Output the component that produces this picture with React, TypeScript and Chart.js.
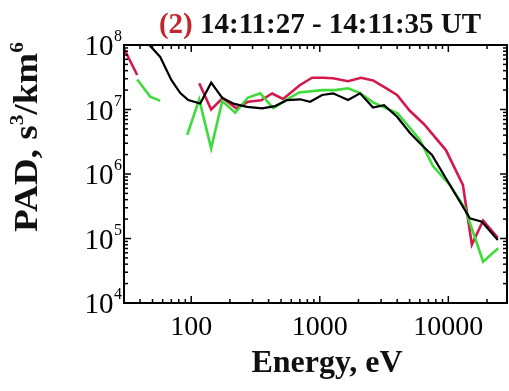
import React, { useEffect, useRef } from 'react';
import { Chart, registerables } from 'chart.js';

Chart.register(...registerables);

// ---- data ----
const blackEnergy = [38.0, 48.0, 57.4, 70.0, 82.2, 94.8, 117.5, 142.9, 174.3, 216, 272, 356, 450, 557, 703, 841, 1043, 1268, 1659, 2057, 2595, 3160, 3990, 5035, 6015, 7460, 10290, 14710, 18250, 24270];
const blackPad = [1.7e8, 9.65e7, 6.52e7, 2.87e7, 1.8e7, 1.4e7, 1.24e7, 2.61e7, 1.51e7, 1.22e7, 1.1e7, 1.04e7, 1.13e7, 1.4e7, 1.44e7, 1.32e7, 1.68e7, 1.78e7, 1.4e7, 1.78e7, 1.07e7, 1.17e7, 7.73e6, 4.33e6, 2.99e6, 1.97e6, 6.75e5, 2.05e5, 1.82e5, 9.5e4];

const redEnergy = [30.1, 38.0, 60, 115.4, 142.9, 175.8, 224, 277, 350, 426, 518, 703, 871, 1061, 1268, 1659, 2094, 2595, 3275, 3990, 5035, 6450, 9570, 12980, 15240, 18660, 24270];
const redPad = [8.67e7, 3.43e7, null, 2.55e7, 1.0e7, 1.51e7, 1.04e7, 1.32e7, 1.39e7, 1.77e7, 1.46e7, 2.4e7, 3.11e7, 3.11e7, 3.05e7, 2.74e7, 3.11e7, 2.82e7, 2.15e7, 1.68e7, 9.48e6, 5.96e6, 2.35e6, 6.75e5, 8.07e4, 1.9e5, 1.02e5];

const greenEnergy = [38.0, 48.0, 57.4, 75, 93.1, 115.4, 142.9, 174.3, 220, 275, 344, 434, 557, 690, 1043, 1315, 1659, 2057, 2595, 3275, 4030, 5035, 6015, 7590, 10290, 13460, 18660, 24430];
const greenPad = [2.92e7, 1.58e7, 1.36e7, null, 4.03e6, 1.43e7, 2.5e6, 1.35e7, 8.91e6, 1.52e7, 1.78e7, 1.05e7, 1.44e7, 1.84e7, 2.0e7, 2.0e7, 2.13e7, 1.8e7, 1.29e7, 1.05e7, 8.73e6, 5.17e6, 3.37e6, 1.33e6, 6.75e5, 2.94e5, 4.37e4, 7.05e4];

const xMin = 30;
const xMax = 28600;
const yMin = 1e4;
const yMax = 1e8;
const xTickValues = [100, 1000, 10000];
const xTickLabels = ['100', '1000', '10000'];
const yTickExponents = [4, 5, 6, 7, 8];

const titleNumber = '(2)';
const titleText = ' 14:11:27 - 14:11:35 UT';
const xTitle = 'Energy, eV';

const SERIF = '"Liberation Serif", "Times New Roman", serif';

function toPoints(xs: number[], ys: (number | null)[]) {
  return xs.map((x, i) => ({ x, y: ys[i] }));
}

const axesPlugin = {
  id: 'axesPlugin',
  afterDraw(chart: any) {
    const { ctx, chartArea: a, scales } = chart;
    const xs = scales.x;
    const ys = scales.y;
    ctx.save();
    ctx.strokeStyle = '#000';
    ctx.fillStyle = '#000';

    const line = (x1: number, y1: number, x2: number, y2: number) => {
      ctx.beginPath();
      ctx.moveTo(x1, y1);
      ctx.lineTo(x2, y2);
      ctx.stroke();
    };

    // ticks on x (bottom and top)
    ctx.lineWidth = 1.5;
    for (let d = 10; d <= 10000; d *= 10) {
      for (let m = 1; m <= 9; m++) {
        const v = m * d;
        if (v < xMin || v > xMax) continue;
        const px = xs.getPixelForValue(v);
        const len = m === 1 ? 7 : 4;
        line(px, a.bottom, px, a.bottom - len);
        line(px, a.top, px, a.top + len);
      }
    }
    // ticks on y (left and right)
    for (let d = 1e4; d <= 1e7; d *= 10) {
      for (let m = 1; m <= 9; m++) {
        const v = m * d;
        if (v < yMin || v > yMax) continue;
        const py = ys.getPixelForValue(v);
        const len = m === 1 ? 7 : 4;
        line(a.left, py, a.left + len, py);
        line(a.right, py, a.right - len, py);
      }
    }

    // box
    ctx.lineWidth = 2;
    ctx.strokeRect(a.left, a.top, a.right - a.left, a.bottom - a.top);

    // x tick labels
    ctx.font = `28px ${SERIF}`;
    ctx.textAlign = 'center';
    ctx.textBaseline = 'alphabetic';
    xTickValues.forEach((v, i) => {
      const px = xs.getPixelForValue(v);
      ctx.fillText(xTickLabels[i], px, a.bottom + 32);
    });

    // y tick labels 10^n
    yTickExponents.forEach((n) => {
      const py = ys.getPixelForValue(Math.pow(10, n));
      ctx.font = `16px ${SERIF}`;
      const sup = String(n);
      const sw = ctx.measureText(sup).width;
      const right = a.left - 2;
      ctx.textAlign = 'left';
      ctx.fillText(sup, right - sw, py - 4);
      ctx.font = `29px ${SERIF}`;
      ctx.textAlign = 'right';
      ctx.fillText('10', right - sw - 0.5, py + 10);
    });

    // title
    ctx.font = `bold 29px ${SERIF}`;
    ctx.textAlign = 'left';
    const w1 = ctx.measureText(titleNumber).width;
    const w2 = ctx.measureText(titleText).width;
    const tx = 320 - (w1 + w2) / 2;
    ctx.fillStyle = '#C0282D';
    ctx.fillText(titleNumber, tx, 33);
    ctx.fillStyle = '#111';
    ctx.fillText(titleText, tx + w1, 33);

    // x title
    ctx.font = `bold 32px ${SERIF}`;
    ctx.textAlign = 'center';
    ctx.fillText(xTitle, 327, 372);

    // y title (rotated) "PAD, s^3/km^6"
    ctx.save();
    ctx.translate(37, 137);
    ctx.rotate(-Math.PI / 2);
    const parts: [string, boolean][] = [['PAD, s', false], ['3', true], ['/km', false], ['6', true]];
    const big = `bold 33px ${SERIF}`;
    const small = `bold 19px ${SERIF}`;
    let total = 0;
    const widths = parts.map(([t, s]) => {
      ctx.font = s ? small : big;
      const w = ctx.measureText(t).width;
      total += w;
      return w;
    });
    const stretch = 190 / total;
    ctx.scale(stretch, 1);
    let cx = -total / 2;
    ctx.textAlign = 'left';
    parts.forEach(([t, s], i) => {
      ctx.font = s ? small : big;
      ctx.fillText(t, cx, s ? -14 : 0);
      cx += widths[i];
    });
    ctx.restore();

    ctx.restore();
  },
};

export default function App() {
  const ref = useRef<HTMLCanvasElement>(null);
  useEffect(() => {
    const chart = new Chart(ref.current as HTMLCanvasElement, {
      type: 'line',
      data: {
        datasets: [
          {
            label: 'black',
            data: toPoints(blackEnergy, blackPad),
            borderColor: '#000000',
            borderWidth: 2.2,
            pointRadius: 0,
            fill: false,
            tension: 0,
            order: 1,
          },
          {
            label: 'red',
            data: toPoints(redEnergy, redPad),
            borderColor: '#D21A4C',
            borderWidth: 2.6,
            pointRadius: 0,
            fill: false,
            tension: 0,
            order: 3,
          },
          {
            label: 'green',
            data: toPoints(greenEnergy, greenPad),
            borderColor: '#3DDC3A',
            borderWidth: 2.6,
            pointRadius: 0,
            fill: false,
            tension: 0,
            order: 2,
          },
        ] as any,
      },
      options: {
        responsive: false,
        animation: false,
        devicePixelRatio: 1,
        events: [],
        layout: { padding: { left: 124, top: 45, right: 2, bottom: 88 } },
        plugins: {
          legend: { display: false },
          title: { display: false },
          tooltip: { enabled: false },
        },
        scales: {
          x: { type: 'logarithmic', min: xMin, max: xMax, display: false },
          y: { type: 'logarithmic', min: yMin, max: yMax, display: false },
        },
      } as any,
      plugins: [axesPlugin as any],
    });
    return () => chart.destroy();
  }, []);
  return (
    <div style={{ position: 'absolute', left: 0, top: 0, width: 509, height: 391, background: '#fff' }}>
      <canvas ref={ref} width={509} height={391} style={{ display: 'block' }} />
    </div>
  );
}
